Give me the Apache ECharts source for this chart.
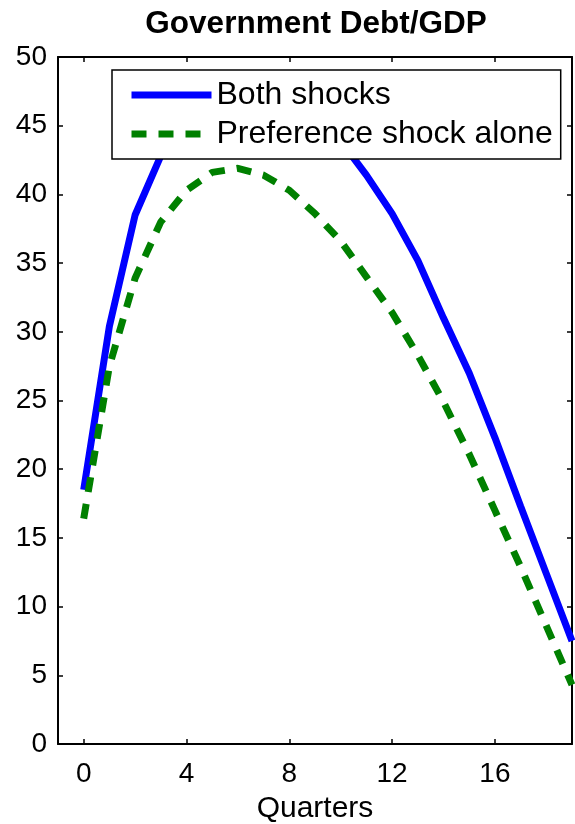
<!DOCTYPE html>
<html>
<head>
<meta charset="utf-8">
<script src="https://cdn.jsdelivr.net/npm/echarts@6/dist/echarts.min.js"></script>
<style>
  html, body { margin: 0; padding: 0; background: #fff; }
  #main { width: 575px; height: 824px; }
</style>
</head>
<body>
<div id="main"></div>
<script>
var quarters = [0, 1, 2, 3, 4, 5, 6, 7, 8, 9, 10, 11, 12, 13, 14, 15, 16, 17, 18, 19];
var bothShocks = [18.5, 30.4, 38.5, 42.8, 45.5, 47.0, 47.6, 47.4, 46.7, 45.5, 43.9, 41.4, 38.6, 35.2, 31.0, 27.0, 22.3, 17.3, 12.4, 7.5];
var prefShock = [16.4, 27.5, 33.9, 38.0, 40.3, 41.6, 41.9, 41.4, 40.3, 38.6, 36.6, 34.0, 31.4, 28.3, 24.9, 21.1, 17.0, 12.9, 8.6, 4.3];
var xTicks = [0, 4, 8, 12, 16];

function pairs(vals) {
  return quarters.map(function (q, i) { return [q, vals[i]]; });
}

var font = 'Liberation Sans, Arial, Helvetica, sans-serif';
var myChart = echarts.init(document.getElementById('main'));
var option = {
  animation: false,
  title: {
    text: 'Government Debt/GDP',
    left: 316,
    textAlign: 'center',
    top: 8,
    padding: 0,
    textStyle: { fontFamily: font, fontSize: 31.5, fontWeight: 'bold', color: '#000' }
  },
  legend: {
    orient: 'vertical',
    left: 112,
    top: 70,
    padding: [9, 8, 9, 16],
    itemWidth: 80,
    itemHeight: 14,
    itemGap: 7,
    itemTextGap: 10,
    backgroundColor: '#fff',
    borderColor: '#000',
    borderWidth: 1.5,
    borderRadius: 0,
    itemStyle: { opacity: 0 },
    lineStyle: { width: 7, cap: 'butt' },
    textStyle: { fontFamily: font, fontSize: 32, color: '#000' },
    data: ['Both shocks', 'Preference shock alone']
  },
  grid: { left: 58, right: 3, top: 57, bottom: 80, outerBoundsMode: 'none' },
  xAxis: [{
    type: 'value',
    min: -1,
    max: 19,
    name: 'Quarters',
    nameLocation: 'middle',
    nameGap: 50,
    nameTextStyle: { fontFamily: font, fontSize: 30, color: '#000' },
    axisLine: { onZero: false, lineStyle: { color: '#000', width: 2 } },
    axisTick: { inside: true, length: 5, customValues: xTicks, lineStyle: { color: '#000', width: 1.5 } },
    axisLabel: { customValues: xTicks, fontFamily: font, fontSize: 28, color: '#000', margin: 16 },
    splitLine: { show: false }
  }, {
    type: 'value',
    position: 'top',
    min: -1,
    max: 19,
    axisLine: { onZero: false, lineStyle: { color: '#000', width: 2 } },
    axisTick: { inside: true, length: 5, customValues: xTicks, lineStyle: { color: '#000', width: 1.5 } },
    axisLabel: { show: false },
    splitLine: { show: false }
  }],
  yAxis: [{
    type: 'value',
    min: 0,
    max: 50,
    interval: 5,
    axisLine: { show: true, onZero: false, lineStyle: { color: '#000', width: 2 } },
    axisTick: { show: true, inside: true, length: 5, lineStyle: { color: '#000', width: 1.5 } },
    axisLabel: { fontFamily: font, fontSize: 28, color: '#000', margin: 11 },
    splitLine: { show: false }
  }, {
    type: 'value',
    position: 'right',
    min: 0,
    max: 50,
    interval: 5,
    axisLine: { show: true, onZero: false, lineStyle: { color: '#000', width: 2 } },
    axisTick: { show: true, inside: true, length: 5, lineStyle: { color: '#000', width: 1.5 } },
    axisLabel: { show: false },
    splitLine: { show: false }
  }],
  series: [{
    name: 'Both shocks',
    type: 'line',
    data: pairs(bothShocks),
    symbol: 'none',
    lineStyle: { color: '#0000ff', width: 7, cap: 'butt' },
    itemStyle: { color: '#0000ff' },
    z: 2
  }, {
    name: 'Preference shock alone',
    type: 'line',
    data: pairs(prefShock),
    symbol: 'none',
    lineStyle: { color: '#008000', width: 7, type: [15, 12], cap: 'butt' },
    itemStyle: { color: '#008000' },
    z: 2
  }]
};
myChart.setOption(option);
</script>
</body>
</html>
